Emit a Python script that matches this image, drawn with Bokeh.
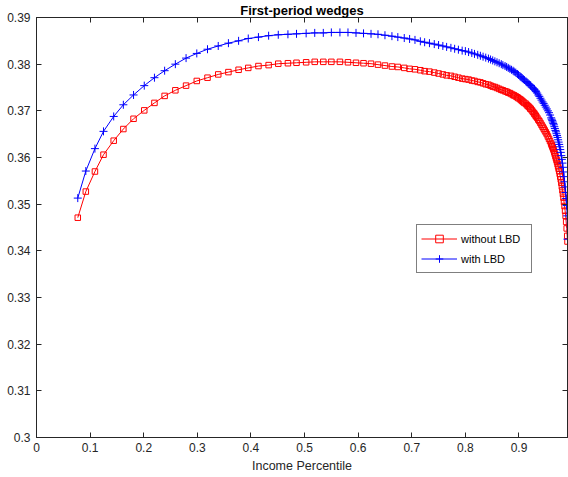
from bokeh.plotting import figure
from bokeh.models import (Range1d, LinearAxis, FixedTicker, CustomJSTickFormatter,
                          Legend, LegendItem)
from bokeh.embed import file_html
from bokeh.resources import INLINE

# ---- data ----
percentile = [
    0.077, 0.092, 0.109, 0.125, 0.144, 0.162, 0.181, 0.201, 0.220, 0.239,
    0.259, 0.279, 0.299, 0.319, 0.339, 0.358, 0.377, 0.395, 0.414, 0.433,
    0.451, 0.469, 0.485,
    0.503, 0.519, 0.535, 0.550, 0.566, 0.581, 0.596, 0.610, 0.624, 0.637,
    0.650, 0.663, 0.674, 0.686, 0.696, 0.706, 0.716, 0.724,
    0.733, 0.742, 0.750, 0.758, 0.765, 0.773, 0.780, 0.787, 0.794, 0.800,
    0.806, 0.812, 0.817, 0.823, 0.828, 0.833, 0.838, 0.843, 0.847, 0.851,
    0.855, 0.859, 0.863, 0.867, 0.870, 0.874, 0.877, 0.880, 0.883, 0.886,
    0.889, 0.891, 0.894, 0.897, 0.899, 0.902, 0.904, 0.906, 0.908, 0.910,
    0.913, 0.915, 0.917, 0.919, 0.921, 0.922, 0.924, 0.926, 0.928, 0.929,
    0.931, 0.932, 0.934, 0.936, 0.938, 0.940, 0.942, 0.944, 0.946, 0.948,
    0.950, 0.952, 0.954, 0.956, 0.958, 0.960, 0.961, 0.962, 0.963, 0.964,
    0.965, 0.966, 0.967, 0.968, 0.969, 0.970, 0.971, 0.972, 0.973, 0.974,
    0.975, 0.976, 0.977, 0.978, 0.979, 0.980, 0.981, 0.982, 0.983, 0.984,
    0.985, 0.986, 0.987, 0.988, 0.989, 0.990, 0.9905,
]

without_lbd = [
    0.3471, 0.3527, 0.3570, 0.3606, 0.3636, 0.3661, 0.3683, 0.3701, 0.3717, 0.3732,
    0.3744, 0.3754, 0.3764, 0.3771, 0.3778, 0.3783, 0.3788, 0.3792, 0.3796, 0.3798,
    0.3801, 0.3802, 0.3803,
    0.3804, 0.3805, 0.3805, 0.3805, 0.3805, 0.3804, 0.3803, 0.3802, 0.3801, 0.3799,
    0.3797, 0.3795, 0.3794, 0.3792, 0.3790, 0.3789, 0.3787, 0.3785,
    0.3784, 0.3782, 0.3780, 0.3778, 0.3776, 0.3775, 0.3773, 0.3771, 0.3769, 0.3768,
    0.3767, 0.3765, 0.3764, 0.3762, 0.3761, 0.3759, 0.3757, 0.3756, 0.3754, 0.3752,
    0.3751, 0.3749, 0.3747, 0.3745, 0.3744, 0.3742, 0.3741, 0.3739, 0.3738, 0.3736,
    0.3734, 0.3733, 0.3731, 0.3729, 0.3727, 0.3725, 0.3723, 0.3721, 0.3719, 0.3717,
    0.3715, 0.3712, 0.3710, 0.3708, 0.3705, 0.3704, 0.3701, 0.3698, 0.3695, 0.3693,
    0.3690, 0.3688, 0.3685, 0.3681, 0.3678, 0.3674, 0.3670, 0.3666, 0.3662, 0.3658,
    0.3654, 0.3650, 0.3645, 0.3640, 0.3635, 0.3630, 0.3627, 0.3624, 0.3621, 0.3618,
    0.3615, 0.3611, 0.3607, 0.3603, 0.3599, 0.3595, 0.3591, 0.3586, 0.3581, 0.3576,
    0.3571, 0.3565, 0.3559, 0.3553, 0.3546, 0.3538, 0.3530, 0.3522, 0.3514, 0.3505,
    0.3496, 0.3486, 0.3475, 0.3462, 0.3448, 0.3432, 0.3420,
]

with_lbd = [
    0.3513, 0.3571, 0.3619, 0.3656, 0.3688, 0.3713, 0.3734, 0.3754, 0.3771, 0.3786,
    0.3800, 0.3813, 0.3823, 0.3832, 0.3839, 0.3845, 0.3850, 0.3855, 0.3858, 0.3861,
    0.3863, 0.3864, 0.3865,
    0.3866, 0.3867, 0.3867, 0.3868, 0.3868, 0.3868, 0.3867, 0.3866, 0.3865, 0.3864,
    0.3862, 0.3860, 0.3858, 0.3856, 0.3854, 0.3852, 0.3849, 0.3847,
    0.3845, 0.3843, 0.3841, 0.3839, 0.3837, 0.3835, 0.3833, 0.3831, 0.3829, 0.3828,
    0.3826, 0.3824, 0.3822, 0.3820, 0.3818, 0.3816, 0.3814, 0.3812, 0.3810, 0.3808,
    0.3806, 0.3804, 0.3802, 0.3800, 0.3798, 0.3796, 0.3794, 0.3792, 0.3790, 0.3788,
    0.3786, 0.3784, 0.3782, 0.3779, 0.3777, 0.3774, 0.3772, 0.3770, 0.3768, 0.3766,
    0.3763, 0.3761, 0.3759, 0.3757, 0.3755, 0.3754, 0.3751, 0.3749, 0.3747, 0.3746,
    0.3743, 0.3741, 0.3738, 0.3734, 0.3731, 0.3727, 0.3723, 0.3719, 0.3716, 0.3712,
    0.3708, 0.3704, 0.3700, 0.3696, 0.3691, 0.3685, 0.3682, 0.3679, 0.3676, 0.3673,
    0.3670, 0.3666, 0.3662, 0.3658, 0.3655, 0.3651, 0.3647, 0.3643, 0.3638, 0.3633,
    0.3628, 0.3623, 0.3617, 0.3611, 0.3604, 0.3596, 0.3588, 0.3579, 0.3569, 0.3559,
    0.3548, 0.3537, 0.3525, 0.3512, 0.3497, 0.3475, 0.3425,
]

x_ticks = [0.0, 0.1, 0.2, 0.3, 0.4, 0.5, 0.6, 0.7, 0.8, 0.9]
y_ticks = [0.30, 0.31, 0.32, 0.33, 0.34, 0.35, 0.36, 0.37, 0.38, 0.39]
title_text = "First-period wedges"
x_label = "Income Percentile"
series_names = ["without LBD", "with LBD"]

AX = "#262626"
FONT = "Liberation Sans"

p = figure(width=568, height=477, output_backend="svg", toolbar_location=None,
           x_range=Range1d(0, 0.9905), y_range=Range1d(0.30, 0.39),
           min_border_left=36, min_border_right=1, min_border_top=15,
           min_border_bottom=40, x_axis_label=x_label)
p.xgrid.visible = False
p.ygrid.visible = False
p.outline_line_color = AX
p.outline_line_width = 1

p.title.text = title_text
p.title.align = "center"
p.title.text_font = FONT
p.title.text_font_size = "13px"
p.title.text_font_style = "bold"
p.title.text_color = "#000000"
p.title.standoff = 0
p.title.offset = 2

fmt = CustomJSTickFormatter(code="return parseFloat(tick.toFixed(2)).toString();")

def style_axis(ax, ticks, show_labels=True):
    ax.ticker = FixedTicker(ticks=ticks)
    ax.major_tick_in = 5
    ax.major_tick_out = 0
    ax.minor_tick_line_color = None
    ax.axis_line_color = AX
    ax.major_tick_line_color = AX
    ax.major_label_text_color = AX
    ax.major_label_text_font = FONT
    if show_labels:
        ax.formatter = fmt
        ax.major_label_text_font_size = "12px"
    else:
        ax.major_label_overrides = {t: "" for t in ticks}
        ax.major_label_text_font_size = "0px"
        ax.major_label_standoff = 0

xa = p.xaxis[0]
style_axis(xa, x_ticks)
xa.major_label_standoff = 5
xa.axis_label_standoff = 4
xa.axis_label_text_font = FONT
xa.axis_label_text_font_size = "12.5px"
xa.axis_label_text_font_style = "normal"
xa.axis_label_text_color = AX

ya = p.yaxis[0]
style_axis(ya, y_ticks)
ya.major_label_standoff = 6

top = LinearAxis()
style_axis(top, x_ticks, show_labels=False)
p.add_layout(top, "above")
right = LinearAxis()
style_axis(right, y_ticks, show_labels=False)
p.add_layout(right, "right")

r_line = p.line(percentile, without_lbd, line_color="#ff0000", line_width=1)
r_mark = p.scatter(percentile, without_lbd, marker="square", size=5.5,
                   fill_color=None, line_color="#ff0000", line_width=1)
b_line = p.line(percentile, with_lbd, line_color="#0000ff", line_width=1)
b_mark = p.scatter(percentile, with_lbd, marker="cross", size=8,
                   line_color="#0000ff", line_width=1)

legend = Legend(items=[LegendItem(label=series_names[0], renderers=[r_line, r_mark]),
                       LegendItem(label=series_names[1], renderers=[b_line, b_mark])],
                location=(380, 164))
legend.border_line_color = "#000000"
legend.border_line_width = 1
legend.background_fill_color = "white"
legend.background_fill_alpha = 1
legend.label_text_font = FONT
legend.label_text_font_size = "11px"
legend.label_text_color = "#000000"
legend.glyph_width = 36
legend.glyph_height = 19
legend.label_height = 19
legend.label_width = 66
legend.label_standoff = 4
legend.padding = 4
legend.spacing = 1
legend.margin = 0
p.add_layout(legend, "center")

open("out.html", "w").write(file_html(p, INLINE))
